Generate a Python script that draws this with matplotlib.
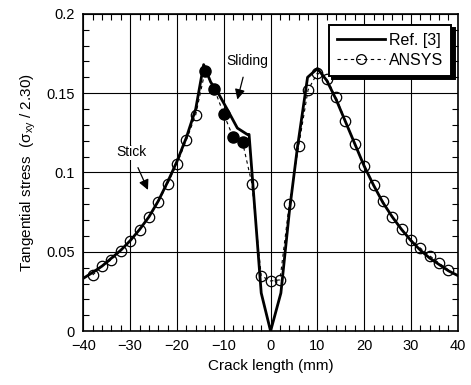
import matplotlib
matplotlib.use("Agg")
import matplotlib.pyplot as plt
from matplotlib.ticker import MultipleLocator
from matplotlib.lines import Line2D

plt.rcParams['font.family'] = ['Liberation Sans', 'DejaVu Sans']
plt.rcParams['mathtext.fontset'] = 'custom'
plt.rcParams['mathtext.rm'] = 'Liberation Sans'
plt.rcParams['mathtext.it'] = 'Liberation Sans'

# Ref. [3] analytical curve
ref_x = [-40, -38, -36, -34, -32, -30, -28, -26, -24, -22, -20, -18, -16, -14.3,
         -12.8, -11, -9.3, -7.1, -5, -4.6, -2.0, 0, 2.2, 4, 5.7, 7.9, 10,
         12, 14, 16, 18, 20, 22, 24, 26, 28, 30, 32, 34, 36, 38, 40]
ref_y = [0.0333, 0.037, 0.041, 0.046, 0.051, 0.057, 0.064, 0.072, 0.082, 0.094,
         0.107, 0.122, 0.140, 0.168,
         0.157, 0.149, 0.140, 0.128, 0.124, 0.124, 0.024, 0.0, 0.024, 0.075, 0.115,
         0.160, 0.1655,
         0.158, 0.146, 0.132, 0.118, 0.104, 0.092, 0.081, 0.072, 0.064, 0.057,
         0.051, 0.046, 0.042, 0.038, 0.035]

# ANSYS results
ansys_x = [-38, -36, -34, -32, -30, -28, -26, -24, -22, -20, -18, -16, -14, -12,
           -10, -8, -6, -4, -2, 0, 2, 4, 6, 8, 10, 12, 14, 16, 18, 20, 22, 24,
           26, 28, 30, 32, 34, 36, 38]
ansys_y = [0.0354, 0.041, 0.045, 0.0508, 0.057, 0.064, 0.0717, 0.0814, 0.093,
           0.1055, 0.1204, 0.1363, 0.164, 0.1525, 0.1367, 0.1223, 0.1192, 0.093,
           0.0348, 0.0316, 0.0323, 0.0804, 0.1167, 0.152, 0.1627, 0.159, 0.1473,
           0.1325, 0.118, 0.1044, 0.0918, 0.0818, 0.0717, 0.0643, 0.0576, 0.0523,
           0.0475, 0.0428, 0.0386]

# nodes in the sliding zone (filled markers)
slide_x = [-14, -12, -10, -8, -6]

fig = plt.figure(figsize=(4.71, 3.85), dpi=100)
ax = fig.add_axes([0.177, 0.140, 0.795, 0.824])

ax.plot(ansys_x, ansys_y, linestyle=(0, (3, 3)), color='black', linewidth=0.8,
        zorder=3)
open_x = [x for x in ansys_x if x not in slide_x]
open_y = [y for x, y in zip(ansys_x, ansys_y) if x not in slide_x]
fill_y = [y for x, y in zip(ansys_x, ansys_y) if x in slide_x]
ax.plot(open_x, open_y, linestyle='none', marker='o', markersize=7.5,
        markerfacecolor='none', markeredgecolor='black', markeredgewidth=0.9,
        zorder=4)
ax.plot(slide_x, fill_y, linestyle='none', marker='o', markersize=8,
        color='black', zorder=4)
ax.plot(ref_x, ref_y, color='black', linewidth=2.0, zorder=5)

ax.set_xlim(-40, 40)
ax.set_ylim(0, 0.2)
ax.xaxis.set_major_locator(MultipleLocator(10))
ax.xaxis.set_minor_locator(MultipleLocator(2))
ax.yaxis.set_major_locator(MultipleLocator(0.05))
ax.yaxis.set_minor_locator(MultipleLocator(0.01))
ax.set_yticks([0, 0.05, 0.1, 0.15, 0.2])
ax.set_yticklabels(['0', '0.05', '0.1', '0.15', '0.2'])
ax.tick_params(which='both', direction='in', top=True, right=True,
               labelsize=10.5, colors='black')
ax.tick_params(which='major', length=0, pad=6)
ax.tick_params(which='minor', length=4, width=0.8)
ax.grid(True, which='major', color='black', linewidth=0.8)
for s in ax.spines.values():
    s.set_linewidth(1.2)

ax.set_xlabel('Crack length (mm)', fontsize=11, labelpad=4)
ax.set_ylabel(r'Tangential stress  ($\sigma_{xy}$ / 2.30)', fontsize=11,
              labelpad=6)

ax.annotate('Sliding', xy=(-7.1, 0.146), xytext=(-5.0, 0.170),
            ha='center', va='center', fontsize=10,
            bbox=dict(boxstyle='square,pad=0.05', fc='white', ec='none'),
            arrowprops=dict(arrowstyle='-|>', color='black', lw=0.9,
                            mutation_scale=15, shrinkA=6, shrinkB=0))
ax.annotate('Stick', xy=(-26.2, 0.089), xytext=(-29.8, 0.1127),
            ha='center', va='center', fontsize=10,
            bbox=dict(boxstyle='square,pad=0.05', fc='white', ec='none'),
            arrowprops=dict(arrowstyle='-|>', color='black', lw=0.9,
                            mutation_scale=15, shrinkA=6, shrinkB=0))

handles = [
    Line2D([], [], color='black', linewidth=2.0),
    Line2D([], [], color='black', linestyle=(0, (3, 3)), linewidth=0.8,
           marker='o', markersize=7, markerfacecolor='none',
           markeredgewidth=0.9),
]
leg = ax.legend(handles, ['Ref. [3]', 'ANSYS'], loc='upper right',
                bbox_to_anchor=(0.995, 0.98), fontsize=11.5, frameon=True,
                fancybox=False,
                shadow={'color': 'black', 'alpha': 1.0, 'ox': 2.5, 'oy': -2.5},
                framealpha=1, edgecolor='black',
                handlelength=3.0, handletextpad=0.25, borderpad=0.5,
                labelspacing=0.3, borderaxespad=0.3)
leg.get_frame().set_linewidth(1.4)
leg.set_zorder(10)

fig.savefig('out.png', dpi=100, facecolor='white')
